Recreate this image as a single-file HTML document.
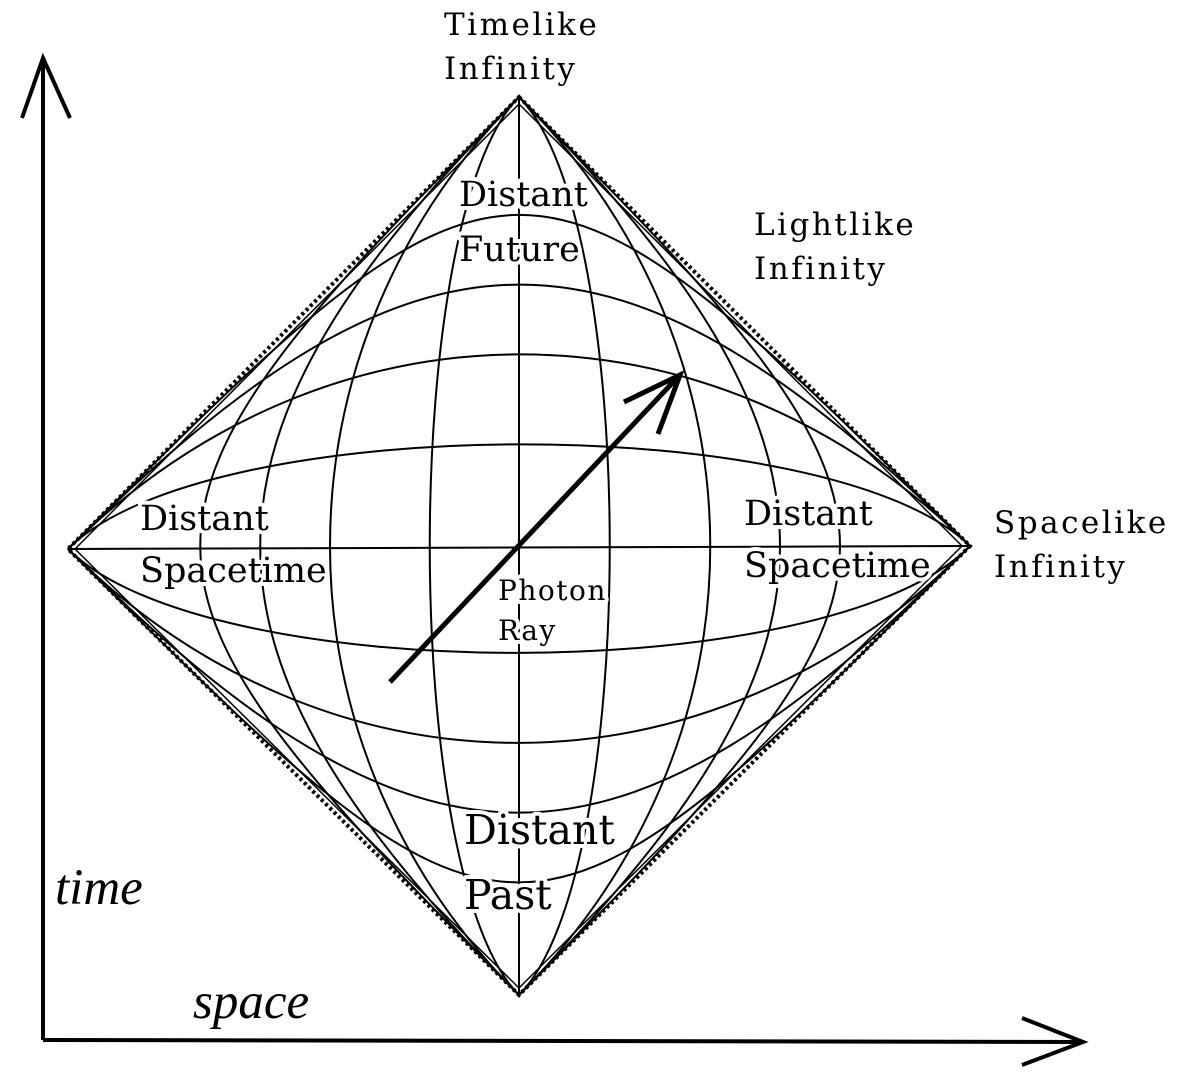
<!DOCTYPE html>
<html><head><meta charset="utf-8"><style>body{margin:0;background:#fff}svg{display:block}</style></head><body>
<svg width="1200" height="1084" viewBox="0 0 1200 1084" xmlns="http://www.w3.org/2000/svg">
<g fill="none" stroke="#000" stroke-width="2">
<path d="M519,97 L970,546 L519,995 L68,549 Z" stroke-width="4" stroke-dasharray="3,3"/>
<path d="M519,104 L962,546 L519,988 L75,549 Z" stroke-width="1.5"/>
<path d="M68,549 C513,104 525,104 970,546"/>
<path d="M68,549 C420,197 618,197 970,546"/>
<path d="M68,549 C327,290 711,290 970,546"/>
<path d="M68,549 C207,410 831,410 970,546"/>
<path d="M68,549 L970,546"/>
<path d="M68,549 C207,688 831,688 970,546"/>
<path d="M68,549 C327,808 711,808 970,546"/>
<path d="M68,549 C420,901 618,901 970,546"/>
<path d="M68,549 C513,994 525,994 970,546"/>
<path d="M519,97 C94,522 94,570 519,995"/>
<path d="M519,97 C174,442 174,650 519,995"/>
<path d="M519,97 C267,349 267,743 519,995"/>
<path d="M519,97 C400,216 400,876 519,995"/>
<path d="M519,97 L519,995"/>
<path d="M519,97 C640,218 640,874 519,995"/>
<path d="M519,97 C774,352 774,740 519,995"/>
<path d="M519,97 C867,445 867,647 519,995"/>
<path d="M519,97 C947,525 947,567 519,995"/>
<path d="M43,1040 L43,60 M22,118 L43,58 L70,118" stroke-width="4"/>
<path d="M43,1040 L1083,1042 M1022,1018 L1083,1042 L1022,1065" stroke-width="4"/>
<path d="M390,682 L678,377 M624,402 L680,375 L658,434" stroke-width="5"/>
</g>
<g font-family="DejaVu Serif, serif" fill="#000" stroke="#fff" stroke-width="8" paint-order="stroke" stroke-linejoin="round">
<text x="459" y="206" font-size="35">Distant</text>
<text x="459" y="261" font-size="35">Future</text>
<text x="140" y="530" font-size="35">Distant</text>
<text x="140" y="582" font-size="35">Spacetime</text>
<text x="744" y="525" font-size="35">Distant</text>
<text x="744" y="577" font-size="35">Spacetime</text>
<text x="464" y="844" font-size="41">Distant</text>
<text x="464" y="909" font-size="41">Past</text>
<text x="498" y="600" font-size="28" letter-spacing="1.5">Photon</text>
<text x="498" y="640" font-size="28" letter-spacing="1.5">Ray</text>
</g>
<g font-family="DejaVu Serif, serif" fill="#000" font-size="31" letter-spacing="2.5">
<text x="444" y="35">Timelike</text>
<text x="444" y="79">Infinity</text>
<text x="754" y="235">Lightlike</text>
<text x="754" y="279">Infinity</text>
<text x="994" y="533">Spacelike</text>
<text x="994" y="577">Infinity</text>
<text x="55" y="904" font-family="Liberation Serif, serif" font-size="51" font-style="italic" letter-spacing="0">time</text>
<text x="193" y="1018" font-family="Liberation Serif, serif" font-size="51" font-style="italic" letter-spacing="0">space</text>
</g>
</svg>
</body></html>
